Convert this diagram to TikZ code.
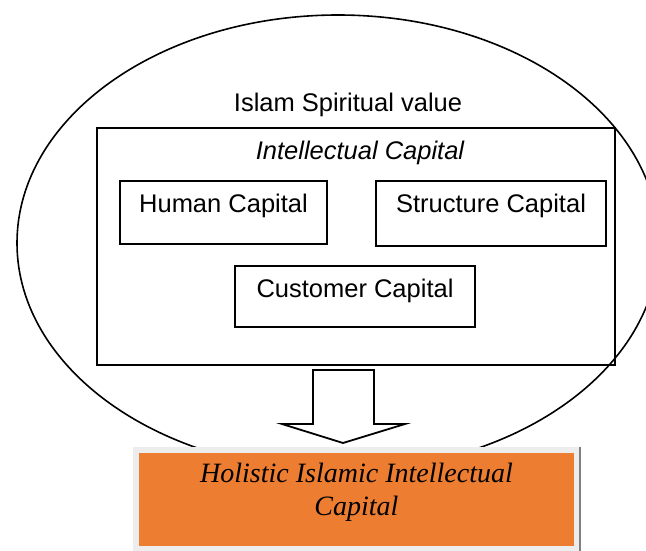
\documentclass[tikz,border=0pt]{standalone}
\usepackage{fontspec}
\setmainfont{Liberation Sans}
\newfontfamily\hicfont{Liberation Serif}
\usepackage{tikz}
\definecolor{hicorange}{HTML}{ED7D31}
\definecolor{hicframe}{HTML}{EDEDED}
\begin{document}
\begin{tikzpicture}[x=1pt, y=-1pt,
        capbox/.style={draw, line width=1.8pt, inner sep=0pt, anchor=base, text height=31pt, font=\fontsize{25.5}{30}\selectfont},
        captext/.style={inner sep=0pt, anchor=base, font=\fontsize{25.5}{30}\selectfont}]
    \useasboundingbox (0,0) rectangle (646,551);
        \draw[line width=1.6pt] (338,243) ellipse [x radius=321pt, y radius=228pt];
        \node[captext] (isv) at (348,111) {Islam Spiritual value};
        \node[draw, line width=1.8pt, minimum width=518pt, minimum height=237pt, inner sep=0pt] (ic) at (356,246.5) {};
        \node[captext, font=\fontsize{25.5}{30}\selectfont\itshape] (ict) at (360,159) {Intellectual Capital};
        \node[capbox, minimum width=207pt, text depth=32pt] (hc) at (223.5,212) {Human Capital};
        \node[capbox, minimum width=230pt, text depth=34pt] (sc) at (491,212) {Structure Capital};
        \node[capbox, minimum width=240pt, text depth=30pt] (cc) at (355,297) {Customer Capital};
        \draw[line width=1.8pt, fill=white] (313,370) -- (374,370) -- (374,424) -- (405,424) -- (343,443) -- (282,424) -- (313,424) -- cycle;
        \node[fill=hicframe, minimum width=447pt, minimum height=104pt, inner sep=0pt] (hicf) at (356.5,499) {};
        \draw[line width=1.5pt, gray] (hicf.north east) -- (hicf.south east);
        \node[fill=hicorange, minimum width=435pt, minimum height=93pt, inner sep=0pt] (hic) at (356.5,499.5) {};
        \node[align=center, inner sep=0pt, font=\hicfont\itshape\fontsize{28}{33}\selectfont, anchor=base] (hict) at (356.5,515) {Holistic Islamic Intellectual\\Capital};
\end{tikzpicture}
\end{document}
